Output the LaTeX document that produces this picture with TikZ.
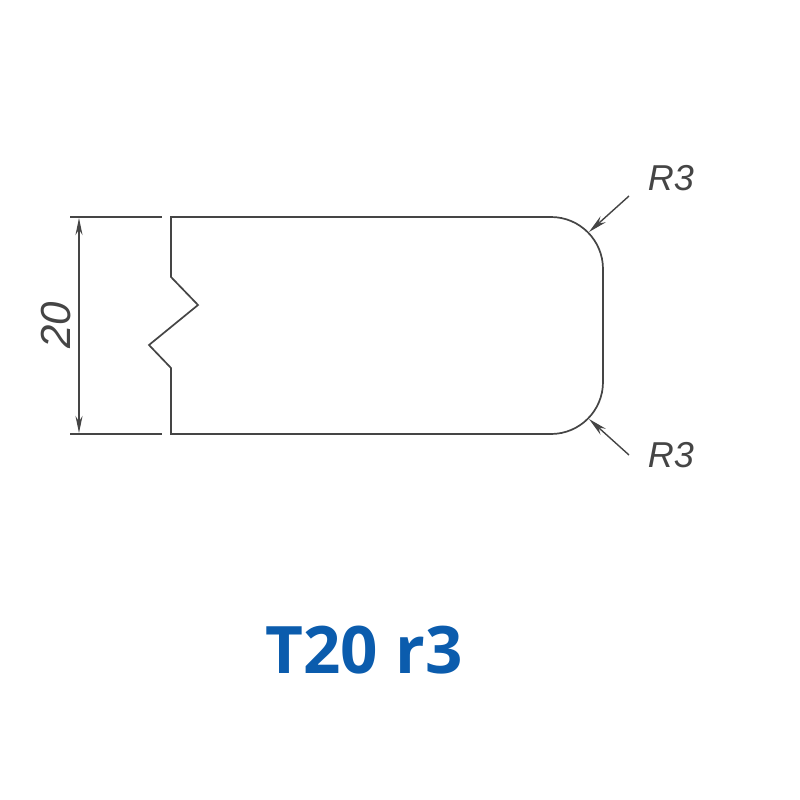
\documentclass[tikz,border=0pt]{standalone}
\usepackage{fontspec}
\setmainfont{Liberation Sans}
\newfontfamily\titlefont{Open Sans}
\usetikzlibrary{arrows.meta}
\definecolor{titleblue}{HTML}{0B5CAD}
\definecolor{inkgrey}{HTML}{454545}
\tikzset{
  x=1pt,y=-1pt,
  outline/.style={draw=inkgrey,line width=1.7pt,line join=miter},
  extline/.style={draw=inkgrey,line width=1.7pt},
  dimline/.style={draw=inkgrey,line width=1.7pt,{Stealth[length=17pt,width=7pt]}-{Stealth[length=17pt,width=7pt]}},
  leader/.style={draw=inkgrey,line width=1.4pt,-{Stealth[length=19pt,width=8pt]}},
  dimtext/.style={text=inkgrey,font=\fontsize{36}{36}\selectfont\itshape,inner sep=0pt},
  bigdimtext/.style={text=inkgrey,font=\fontsize{42}{42}\selectfont\itshape,inner sep=0pt},
  titletext/.style={text=titleblue,font=\titlefont\fontsize{65.5}{66}\selectfont\bfseries,inner sep=0pt}
}
\begin{document}
\begin{tikzpicture}
\useasboundingbox (0,0) rectangle (800,800);
\fill[white] (0,0) rectangle (800,800);
% profile
\draw[outline] (171,277) -- (171,217) -- (551,217)
  arc[start angle=90,end angle=0,x radius=52,y radius=-52] -- (603,382)
  arc[start angle=0,end angle=-90,x radius=52,y radius=-52] -- (171,434) -- (171,368)
  -- (149,345) -- (198,305) -- cycle;
% dimension
\coordinate (et1) at (70,217);
\coordinate (et2) at (162,217);
\coordinate (eb1) at (70,434);
\coordinate (eb2) at (162,434);
\coordinate (dt) at (79,218);
\coordinate (db) at (79,433);
\draw[extline] (et1) -- (et2);
\draw[extline] (eb1) -- (eb2);
\draw[dimline] (dt) -- (db);
\node[bigdimtext,rotate=90] (dimlabel) at (56,325) {20};
% radii
\coordinate (lt1) at (629,196);
\coordinate (lt2) at (589,232);
\coordinate (lb1) at (629,455);
\coordinate (lb2) at (589,419);
\draw[leader] (lt1) -- (lt2);
\draw[leader] (lb1) -- (lb2);
\node[dimtext] (rtop) at (671,178) {R3};
\node[dimtext] (rbot) at (671,455) {R3};
% title
\node[titletext] (title) at (364,650) {T20 r3};
\end{tikzpicture}
\end{document}
